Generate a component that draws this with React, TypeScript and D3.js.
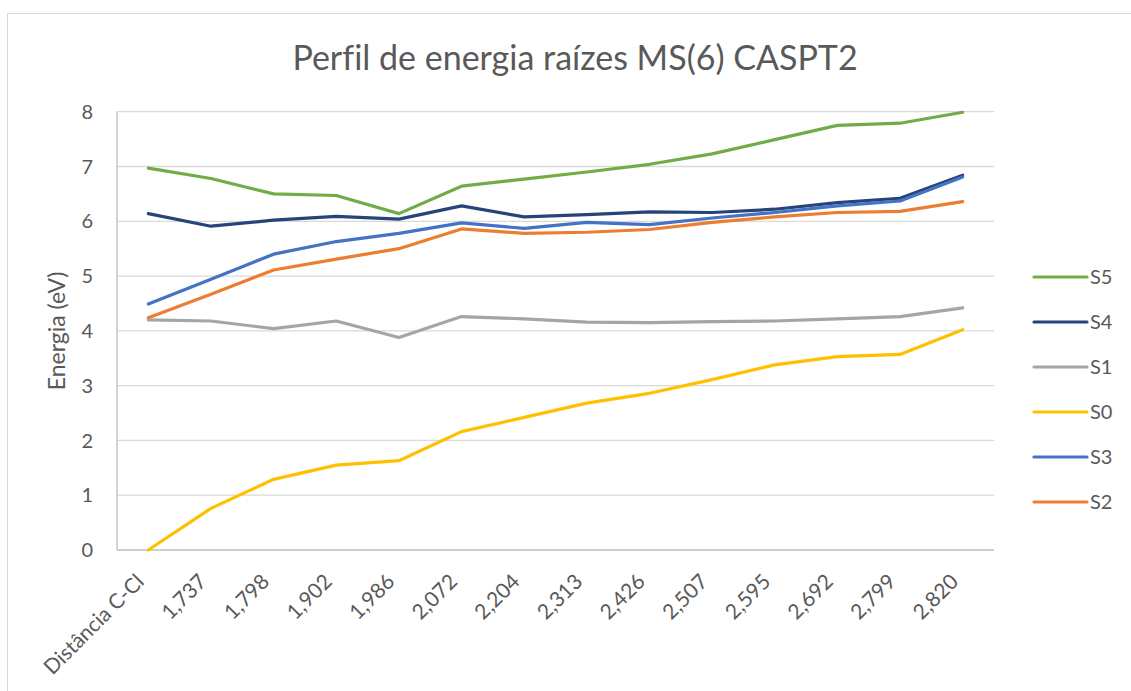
import React from 'react';
import * as d3 from 'd3';

const categories = ['Distância C-Cl', '1,737', '1,798', '1,902', '1,986', '2,072', '2,204', '2,313', '2,426', '2,507', '2,595', '2,692', '2,799', '2,820'];

const s5 = [6.97, 6.78, 6.50, 6.47, 6.14, 6.64, 6.77, 6.90, 7.04, 7.23, 7.49, 7.75, 7.79, 7.99];
const s4 = [6.14, 5.91, 6.02, 6.09, 6.04, 6.28, 6.08, 6.12, 6.17, 6.16, 6.22, 6.34, 6.42, 6.84];
const s1 = [4.20, 4.18, 4.04, 4.18, 3.88, 4.26, 4.22, 4.16, 4.15, 4.17, 4.18, 4.22, 4.26, 4.42];
const s0 = [0.0, 0.76, 1.29, 1.55, 1.63, 2.16, 2.42, 2.68, 2.86, 3.11, 3.38, 3.53, 3.57, 4.02];
const s3 = [4.49, 4.94, 5.40, 5.63, 5.78, 5.97, 5.87, 5.98, 5.94, 6.06, 6.16, 6.28, 6.37, 6.81];
const s2 = [4.24, 4.67, 5.11, 5.31, 5.50, 5.86, 5.78, 5.80, 5.85, 5.98, 6.08, 6.16, 6.18, 6.36];

const yTicks = [0, 1, 2, 3, 4, 5, 6, 7, 8];

// legend / draw order
const series = [
  { name: 'S5', values: s5, color: '#70AD47' },
  { name: 'S4', values: s4, color: '#264478' },
  { name: 'S1', values: s1, color: '#A5A5A5' },
  { name: 'S0', values: s0, color: '#FFC000' },
  { name: 'S3', values: s3, color: '#4472C4' },
  { name: 'S2', values: s2, color: '#ED7D31' },
];

const W = 1131;
const H = 691;
const plot = { left: 117, right: 994, top: 111.7, bottom: 550 };
const font = 'Lato, "Open Sans", sans-serif';
const textColor = '#595959';

export default function App() {
  const x = d3.scaleBand<string>().domain(categories).range([plot.left, plot.right]);
  const y = d3.scaleLinear().domain([0, 8]).range([plot.bottom, plot.top]);
  const cx = (c: string) => (x(c) ?? 0) + x.bandwidth() / 2;

  const line = d3.line<number>()
    .x((_, i) => cx(categories[i]))
    .y(d => y(d));

  return (
    <svg width={W} height={H} style={{ position: 'absolute', left: 0, top: 0, background: '#fff', fontVariantLigatures: 'none' }}
      fontFamily={font}>
      <rect x={7.5} y={13.5} width={W} height={H} fill="#fff" stroke="#d9d9d9" strokeWidth={1} />

      <text x={575} y={70} textAnchor="middle" fontSize={34} fill={textColor}>
        Perfil de energia raízes MS(6) CASPT2
      </text>

      {/* grid */}
      {yTicks.map(t => (
        <line key={t} x1={plot.left} x2={plot.right} y1={y(t)} y2={y(t)}
          stroke={t === 0 ? '#bfbfbf' : '#d9d9d9'} strokeWidth={1.3} />
      ))}
      <line x1={plot.left} x2={plot.left} y1={plot.top} y2={plot.bottom} stroke="#bfbfbf" strokeWidth={1.3} />

      {/* y ticks */}
      {yTicks.map(t => (
        <text key={t} x={93} y={y(t)} dy="0.36em" textAnchor="end" fontSize={20} fill={textColor}>{t}</text>
      ))}
      <text transform={`translate(65,${331}) rotate(-90)`} textAnchor="middle" fontSize={23} fill={textColor}>
        Energia (eV)
      </text>

      {/* x ticks */}
      {categories.map(c => (
        <text key={c} transform={`translate(${cx(c) - 3},${583}) rotate(-45)`} textAnchor="end"
          fontSize={21} fill={textColor}>{c}</text>
      ))}

      {/* lines */}
      {series.map(s => (
        <path key={s.name} d={line(s.values) ?? ''} fill="none" stroke={s.color} strokeWidth={3.2}
          strokeLinejoin="round" strokeLinecap="round" />
      ))}

      {/* legend */}
      {series.map((s, i) => {
        const ly = 277 + i * 45;
        return (
          <g key={s.name}>
            <line x1={1034} x2={1087} y1={ly} y2={ly} stroke={s.color} strokeWidth={3.2} strokeLinecap="round" />
            <text x={1090} y={ly} dy="0.36em" fontSize={20} fill={textColor}>{s.name}</text>
          </g>
        );
      })}
    </svg>
  );
}
